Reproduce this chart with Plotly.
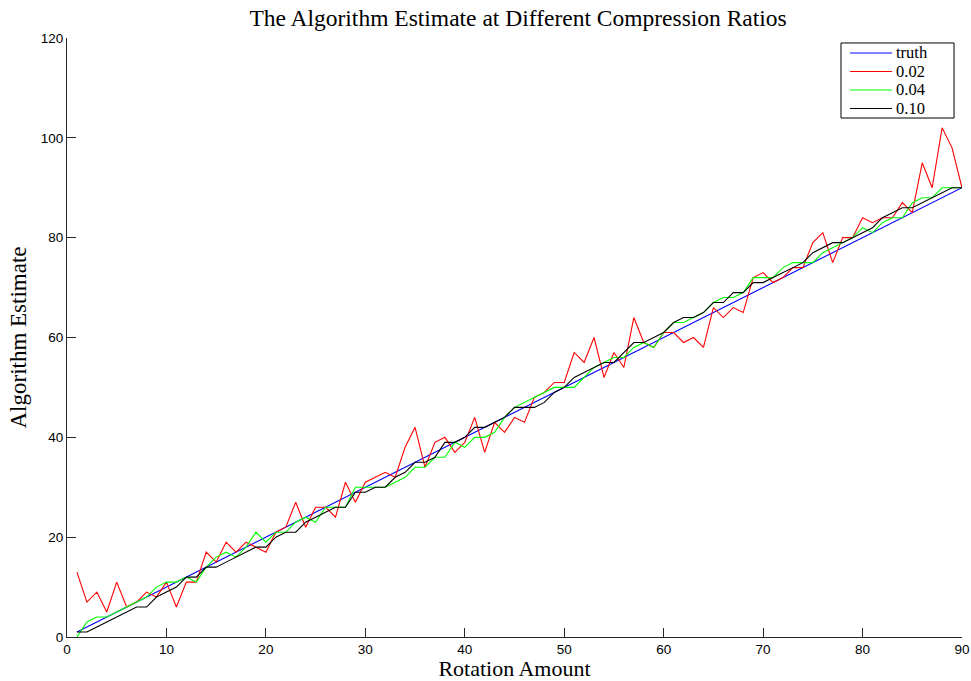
import plotly.graph_objects as go

# Rotation amounts tested and the corresponding estimates
rotation = list(range(1, 91))
truth = list(range(1, 91))

est_002 = [13, 7, 9, 5, 11, 6, 7, 9, 8, 11, 6, 11, 11, 17, 15, 19, 17, 19, 18, 17,
           21, 22, 27, 22, 26, 26, 24, 31, 27, 31, 32, 33, 32, 38, 42, 34, 39, 40, 37, 39,
           44, 37, 43, 41, 44, 43, 48, 49, 51, 51, 57, 55, 60, 52, 57, 54, 64, 59, 58, 61,
           61, 59, 60, 58, 66, 64, 66, 65, 72, 73, 71, 72, 74, 74, 79, 81, 75, 80, 80, 84,
           83, 84, 84, 87, 85, 95, 90, 102, 98, 90]

est_004 = [0, 3, 4, 4, 5, 6, 7, 8, 10, 11, 11, 12, 11, 14, 16, 17, 16, 18, 21, 19,
           21, 21, 23, 24, 23, 26, 26, 26, 30, 30, 30, 30, 31, 32, 34, 34, 36, 36, 39, 38,
           40, 40, 41, 44, 46, 47, 48, 49, 50, 50, 50, 52, 54, 55, 56, 56, 58, 59, 58, 61,
           63, 63, 64, 65, 67, 68, 68, 69, 72, 72, 72, 74, 75, 75, 75, 77, 78, 79, 80, 82,
           81, 83, 84, 84, 87, 88, 88, 90, 90, 90]

est_010 = [1, 1, 2, 3, 4, 5, 6, 6, 8, 9, 10, 12, 12, 14, 14, 15, 16, 17, 18, 18,
           20, 21, 21, 23, 24, 25, 26, 26, 29, 29, 30, 30, 32, 33, 35, 35, 36, 39, 39, 40,
           42, 42, 43, 44, 46, 46, 46, 47, 49, 50, 52, 53, 54, 55, 55, 57, 59, 59, 60, 61,
           63, 64, 64, 65, 67, 67, 69, 69, 71, 71, 72, 73, 74, 75, 77, 78, 79, 79, 80, 81,
           82, 84, 85, 86, 86, 87, 88, 89, 90, 90]

x_ticks = [0, 10, 20, 30, 40, 50, 60, 70, 80, 90]
y_ticks = [0, 20, 40, 60, 80, 100, 120]

series_names = ["truth", "0.02", "0.04", "0.10"]
series_values = [truth, est_002, est_004, est_010]
series_colors = ["#0000ff", "#ff0000", "#00ff00", "#000000"]

serif = "Liberation Serif"
sans = "Liberation Sans"

fig = go.Figure()
for name, vals, color in zip(series_names, series_values, series_colors):
    fig.add_trace(go.Scatter(
        x=rotation, y=vals, mode="lines", name=name,
        line=dict(color=color, width=1.1),
        showlegend=False,
    ))

# Compact boxed legend in the upper-right corner of the axes
box_x0, box_x1 = 0.8648, 0.9911
box_y0, box_y1 = 0.8664, 0.9917
swatch_x0, swatch_x1 = 0.8749, 0.9218
label_x = 0.9252
row_y = [0.9750, 0.9441, 0.9132, 0.8823]

shapes = [dict(type="rect", xref="x domain", yref="y domain",
               x0=box_x0, x1=box_x1, y0=box_y0, y1=box_y1,
               line=dict(color="#000000", width=1), fillcolor="white", layer="above")]
annotations = []
for name, color, ry in zip(series_names, series_colors, row_y):
    shapes.append(dict(type="line", xref="x domain", yref="y domain",
                       x0=swatch_x0, x1=swatch_x1, y0=ry, y1=ry,
                       line=dict(color=color, width=1.1), layer="above"))
    annotations.append(dict(xref="x domain", yref="y domain", x=label_x, y=ry,
                            xanchor="left", yanchor="middle", showarrow=False,
                            borderpad=0,
                            text=name, font=dict(family=serif, size=16.5, color="#000000")))

axis_common = dict(
    showgrid=False, zeroline=False, showline=True, linecolor="#262626",
    linewidth=1, ticks="inside", ticklen=9, tickcolor="#262626", tickwidth=1,
    tickfont=dict(family=sans, size=13.5, color="#000000"),
    mirror=False, automargin=False,
)

fig.update_layout(
    width=971, height=681,
    margin=dict(l=67, r=9, t=38, b=44),
    paper_bgcolor="white", plot_bgcolor="white",
    title=dict(
        text="The Algorithm Estimate at Different Compression Ratios",
        font=dict(family=serif, size=23.5, color="#000000"),
        xref="paper", x=0.504, xanchor="center",
        yref="container", y=0.9736, yanchor="middle",
    ),
    xaxis=dict(
        range=[0, 90], tickvals=x_ticks,
        title=dict(text="Rotation Amount", font=dict(family=serif, size=22, color="#000000"), standoff=5),
        **axis_common,
    ),
    yaxis=dict(
        range=[0, 120], tickvals=y_ticks,
        title=dict(text="Algorithm Estimate", font=dict(family=serif, size=23, color="#000000"), standoff=7),
        **axis_common,
    ),
    shapes=shapes,
    annotations=annotations,
    showlegend=False,
)

fig.write_html("out.html")
